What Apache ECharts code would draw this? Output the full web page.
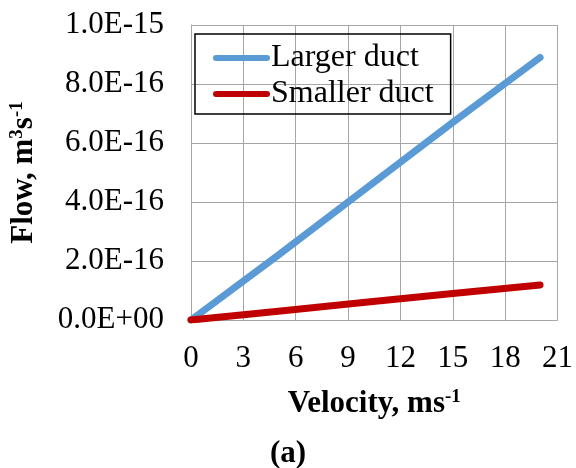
<!DOCTYPE html>
<html>
	<head>
		<meta charset="UTF-8">
		<title></title>
		<script src="https://cdn.jsdelivr.net/npm/echarts@6/dist/echarts.min.js" type="text/javascript" charset="utf-8"></script>
	</head>
	<body style="margin:0;background:#fff">
		<div id="main" style="width: 576px;height: 468px;"></div>
		<script type="text/javascript">
			// data
			var velocity = [0, 5, 10, 15, 20];
			var largerDuct = [0, 2.2e-16, 4.45e-16, 6.7e-16, 8.9e-16];
			var smallerDuct = [0, 0.3e-16, 0.6e-16, 0.9e-16, 1.19e-16];
			var seriesNames = ['Larger duct', 'Smaller duct'];

			function pairs(xs, ys) {
				return xs.map(function(x, i) { return [x, ys[i]]; });
			}
			function sci(v) {
				var s = v.toExponential(1).toUpperCase();
				var m = s.split('E');
				var e = parseInt(m[1], 10);
				var sign = e < 0 ? '-' : '+';
				var a = Math.abs(e);
				return m[0] + 'E' + sign + (a < 10 ? '0' + a : a);
			}

			var font = 'Liberation Serif';
			var capsule = 'path://M3,0 H54 A3,3 0 0 1 54,6 H3 A3,3 0 0 1 3,0 Z';
			var supStyle = { fontFamily: font, fontWeight: 'bold', fontSize: 19, verticalAlign: 'top', color: '#000' };

			var option = {
				backgroundColor: '#fff',
				animation: false,
				textStyle: { fontFamily: font, color: '#000' },
				title: {
					text: '(a)',
					left: 'center',
					bottom: -6,
					textStyle: { fontFamily: font, fontWeight: 'bold', fontSize: 31, color: '#000' }
				},
				legend: {
					left: 195,
					top: 34,
					orient: 'vertical',
					padding: [8, 17, 4, 18],
					itemGap: 4,
					itemWidth: 57,
					itemHeight: 7,
					borderColor: '#000',
					borderWidth: 1.5,
					textStyle: { fontFamily: font, fontSize: 32, color: '#000', padding: [0, 0, 0, -4] },
					data: [
						{ name: seriesNames[0], icon: capsule },
						{ name: seriesNames[1], icon: capsule }
					]
				},
				grid: { left: 191, right: 15, top: 25, bottom: 148 },
				xAxis: {
					type: 'value',
					min: 0,
					max: 21,
					interval: 3,
					name: 'Velocity, ms{sup|-1}',
					nameLocation: 'middle',
					nameGap: 68,
					nameTextStyle: {
						fontFamily: font, fontWeight: 'bold', fontSize: 31, color: '#000',
						rich: { sup: supStyle }
					},
					axisLine: { lineStyle: { color: '#A6A6A6', width: 1 } },
					axisTick: { show: false },
					axisLabel: { fontFamily: font, fontSize: 31, color: '#000', margin: 23 },
					splitLine: { show: true, lineStyle: { color: '#A6A6A6', width: 1 } }
				},
				yAxis: {
					type: 'value',
					min: 0,
					max: 1e-15,
					interval: 2e-16,
					name: 'Flow, m{sup|3}s{sup|-1}',
					nameLocation: 'middle',
					nameGap: 152,
					nameTextStyle: {
						fontFamily: font, fontWeight: 'bold', fontSize: 31, color: '#000',
						rich: { sup: supStyle }
					},
					axisLine: { show: true, lineStyle: { color: '#A6A6A6', width: 1 } },
					axisTick: { show: false },
					axisLabel: { fontFamily: font, fontSize: 31, color: '#000', margin: 27, formatter: sci },
					splitLine: { show: true, lineStyle: { color: '#A6A6A6', width: 1 } }
				},
				series: [{
					name: seriesNames[0],
					type: 'line',
					data: pairs(velocity, largerDuct),
					symbol: 'none',
					color: '#5B9BD5',
					lineStyle: { width: 7, cap: 'round', color: '#5B9BD5' }
				}, {
					name: seriesNames[1],
					type: 'line',
					data: pairs(velocity, smallerDuct),
					symbol: 'none',
					color: '#C00000',
					lineStyle: { width: 7, cap: 'round', color: '#C00000' }
				}]
			};
			var myChart = echarts.init(document.getElementById('main'));
			myChart.setOption(option);
		</script>
	</body>
</html>
